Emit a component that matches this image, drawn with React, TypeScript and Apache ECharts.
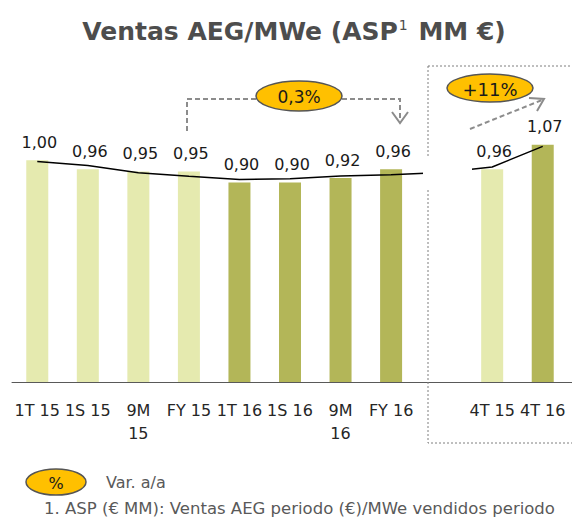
import React, { useEffect, useRef } from "react";
import * as echarts from "echarts";

const categories = ["1T 15", "1S 15", "9M\n15", "FY 15", "1T 16", "1S 16", "9M\n16", "FY 16", "", "4T 15", "4T 16"];
const aspValues: (number | null)[] = [1.0, 0.96, 0.95, 0.95, 0.9, 0.9, 0.92, 0.96, null, 0.96, 1.07];
const barYear = ["15", "15", "15", "15", "16", "16", "16", "16", "", "15", "16"];
const trendLine = [0.995, 0.977, 0.944, 0.928, 0.913, 0.917, 0.929, 0.935, 0.945, 0.97, 1.063];
const varFY = "0,3%";
const var4T = "+11%";

const LIGHT = "#E5EAAF";
const DARK = "#B3B658";
const FONT = "DejaVu Sans, Verdana, sans-serif";

export default function App() {
  const ref = useRef<HTMLDivElement>(null);
  useEffect(() => {
    if (!ref.current) return;
    const chart = echarts.init(ref.current, null, { renderer: "svg" });
    const dash = { stroke: "#8C8C8C", lineWidth: 2, lineDash: [5, 3], fill: "none" };
    const arrowHead = { stroke: "#8C8C8C", lineWidth: 2, fill: "none" };
    chart.setOption({
      animation: false,
      backgroundColor: "#ffffff",
      textStyle: { fontFamily: FONT },
      grid: { left: 12, right: 4, top: 116, bottom: 135 },
      xAxis: {
        type: "category",
        data: categories,
        axisTick: { show: false },
        axisLine: { lineStyle: { color: "#595959", width: 1 } },
        axisLabel: { color: "#262626", fontSize: 16, lineHeight: 23, margin: 17, interval: 0, fontFamily: FONT },
      },
      yAxis: { type: "value", min: 0, max: 1.2, show: false, splitLine: { show: false } },
      series: [
        {
          type: "bar",
          barWidth: 22,
          data: aspValues.map((v, i) => ({
            value: v,
            itemStyle: { color: barYear[i] === "15" ? LIGHT : DARK },
          })),
          label: {
            show: true,
            position: "top",
            distance: 10,
            offset: [2, 0],
            fontSize: 16,
            color: "#1a1a1a",
            fontFamily: FONT,
            formatter: (p: any) => (p.value == null ? "" : Number(p.value).toFixed(2).replace(".", ",")),
          },
          z: 2,
        },
        {
          type: "line",
          data: trendLine,
          symbol: "none",
          lineStyle: { color: "#000000", width: 1.5 },
          z: 3,
        },
      ],
      graphic: [
        { type: "line", shape: { x1: 566, y1: 382.5, x2: 572, y2: 382.5 }, style: { stroke: "#595959", lineWidth: 1 } },
        {
          type: "rect",
          shape: { x: 428, y: 66, width: 160, height: 377 },
          style: { fill: "none", stroke: "#7F7F7F", lineWidth: 1, lineDash: [2, 2] },
          z: 10,
        },
        { type: "rect", shape: { x: 423, y: 158, width: 49, height: 31 }, style: { fill: "#ffffff" }, z: 20 },
        {
          type: "text",
          x: 294,
          y: 31,
          style: {
            text: "{a|Ventas AEG/MWe (ASP}{s|1}{a| MM €)}",
            align: "center",
            verticalAlign: "middle",
            rich: {
              a: { fontSize: 25, fontWeight: "bold", fill: "#4D4D4D", fontFamily: FONT },
              s: { fontSize: 14, fill: "#4D4D4D", fontFamily: FONT, padding: [0, 2, 12, 1] },
            },
          },
          z: 20,
        },
        // FY arrow
        { type: "polyline", shape: { points: [[187, 131], [187, 99], [256, 99]] }, style: dash, z: 20 },
        { type: "polyline", shape: { points: [[342, 99], [400, 99], [400, 121]] }, style: dash, z: 20 },
        { type: "polyline", shape: { points: [[392, 112], [400, 123], [408, 112]] }, style: arrowHead, z: 20 },
        {
          type: "ellipse",
          shape: { cx: 299, cy: 96, rx: 43, ry: 15 },
          style: { fill: "#FFC000", stroke: "#555555", lineWidth: 1.5 },
          z: 21,
        },
        {
          type: "text",
          x: 299,
          y: 97,
          style: { text: varFY, align: "center", verticalAlign: "middle", fontSize: 17, fill: "#1a1a1a", fontFamily: FONT },
          z: 22,
        },
        // 4T arrow
        { type: "line", shape: { x1: 470, y1: 129, x2: 542, y2: 100 }, style: dash, z: 20 },
        { type: "polyline", shape: { points: [[529, 98], [544, 99], [537, 111]] }, style: arrowHead, z: 20 },
        {
          type: "ellipse",
          shape: { cx: 490, cy: 88, rx: 43, ry: 14 },
          style: { fill: "#FFC000", stroke: "#555555", lineWidth: 1.5 },
          z: 21,
        },
        {
          type: "text",
          x: 490,
          y: 89,
          style: { text: var4T, align: "center", verticalAlign: "middle", fontSize: 18, fill: "#1a1a1a", fontFamily: FONT },
          z: 22,
        },
        // legend
        {
          type: "ellipse",
          shape: { cx: 56, cy: 482, rx: 30, ry: 13 },
          style: { fill: "#FFC000", stroke: "#555555", lineWidth: 1.5 },
          z: 21,
        },
        {
          type: "text",
          x: 56,
          y: 483,
          style: { text: "%", align: "center", verticalAlign: "middle", fontSize: 16, fill: "#1a1a1a", fontFamily: FONT },
          z: 22,
        },
        {
          type: "text",
          x: 106,
          y: 482,
          style: { text: "Var. a/a", align: "left", verticalAlign: "middle", fontSize: 16, fill: "#595959", fontFamily: FONT },
          z: 22,
        },
        {
          type: "text",
          x: 44,
          y: 508,
          style: {
            text: "1. ASP (€ MM): Ventas AEG periodo (€)/MWe vendidos periodo",
            align: "left",
            verticalAlign: "middle",
            fontSize: 16.5,
            fill: "#595959",
            fontFamily: FONT,
          },
          z: 22,
        },
      ],
    });
    return () => chart.dispose();
  }, []);
  return <div ref={ref} style={{ position: "absolute", left: 0, top: 0, width: 572, height: 517 }} />;
}
